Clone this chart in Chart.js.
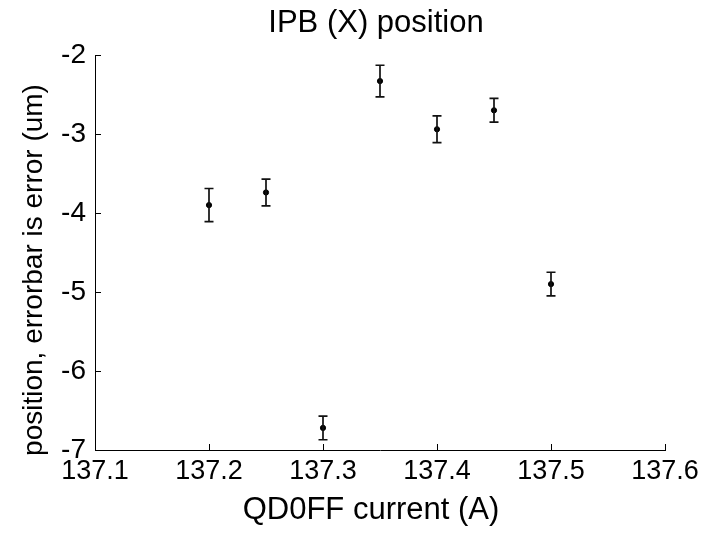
<!DOCTYPE html>
<html>
<head>
<meta charset="utf-8">
<script src="https://cdn.jsdelivr.net/npm/chart.js@4"></script>
<style>
  html, body { margin: 0; padding: 0; background: #fff; }
  #wrap { width: 712px; height: 533px; }
</style>
</head>
<body>
<div id="wrap"><canvas id="posChart" width="712" height="533"></canvas></div>
<script>
// QD0FF scan: IPB horizontal position with per-point error
const currents = [137.2, 137.25, 137.3, 137.35, 137.4, 137.45, 137.5];
const positions = [-3.90, -3.74, -6.72, -2.33, -2.94, -2.70, -4.90];
const errors = [0.21, 0.17, 0.15, 0.20, 0.17, 0.15, 0.15];
const xTicks = [137.1, 137.2, 137.3, 137.4, 137.5, 137.6];
const yTicks = [-7, -6, -5, -4, -3, -2];

const titleText = "IPB (X) position";
const xLabel = "QD0FF current (A)";
const yLabel = "position, errorbar is error (um)";

const FONT = "'Liberation Sans', Arial, Helvetica, sans-serif";

/* vertical error bars with caps */
const errorBars = {
    id: "errorBars",
    afterDatasetsDraw(chart) {
        const ctx = chart.ctx;
        const xs = chart.scales.x;
        const ys = chart.scales.y;
        const cap = 4.5;
        ctx.save();
        ctx.strokeStyle = "#111";
        ctx.lineWidth = 1.7;
        currents.forEach((c, i) => {
            const px = xs.getPixelForValue(c);
            const top = ys.getPixelForValue(positions[i] + errors[i]);
            const bot = ys.getPixelForValue(positions[i] - errors[i]);
            ctx.beginPath();
            ctx.moveTo(px, top);
            ctx.lineTo(px, bot);
            ctx.moveTo(px - cap, top);
            ctx.lineTo(px + cap, top);
            ctx.moveTo(px - cap, bot);
            ctx.lineTo(px + cap, bot);
            ctx.stroke();
        });
        ctx.restore();
    }
};

/* matlab-style ticks pointing into the plot */
const innerTicks = {
    id: "innerTicks",
    afterDraw(chart) {
        const ctx = chart.ctx;
        const xs = chart.scales.x;
        const ys = chart.scales.y;
        const len = 6;
        const area = chart.chartArea;
        ctx.save();
        ctx.strokeStyle = "#000";
        ctx.lineWidth = 1;
        ctx.beginPath();
        xTicks.forEach(v => {
            const px = Math.round(xs.getPixelForValue(v)) + 0.5;
            ctx.moveTo(px, area.bottom);
            ctx.lineTo(px, area.bottom - len);
        });
        yTicks.forEach(v => {
            const py = Math.round(ys.getPixelForValue(v)) + 0.5;
            ctx.moveTo(area.left, py);
            ctx.lineTo(area.left + len, py);
        });
        ctx.stroke();
        ctx.restore();
    }
};

/* title and axis labels, placed like the matlab figure */
const figureText = {
    id: "figureText",
    afterDraw(chart) {
        const ctx = chart.ctx;
        const area = chart.chartArea;
        const midX = (area.left + area.right) / 2;
        ctx.save();
        ctx.fillStyle = "#000";
        ctx.textAlign = "center";
        ctx.textBaseline = "alphabetic";

        ctx.font = "31px " + FONT;
        ctx.fillText(titleText, midX - 4, 32);
        ctx.fillText(xLabel, midX - 9, 519);

        ctx.font = "28px " + FONT;
        ctx.translate(42, 270);
        ctx.rotate(-Math.PI / 2);
        ctx.fillText(yLabel, 0, 0);
        ctx.restore();
    }
};

new Chart(document.getElementById("posChart"), {
    type: "scatter",
    data: {
        datasets: [{
            data: currents.map((c, i) => ({x: c, y: positions[i]})),
            backgroundColor: "#000",
            borderColor: "#000",
            pointRadius: 2.6,
            pointHoverRadius: 2.6
        }]
    },
    options: {
        responsive: false,
        animation: false,
        devicePixelRatio: 1,
        layout: {padding: {left: 0, right: 47, top: 55, bottom: 0}},
        plugins: {
            legend: {display: false},
            tooltip: {enabled: false},
            title: {display: false}
        },
        scales: {
            x: {
                type: "linear",
                min: 137.1,
                max: 137.6,
                afterBuildTicks: s => { s.ticks = xTicks.map(v => ({value: v})); },
                afterFit: s => { s.height = 83; },
                grid: {display: false, drawTicks: false},
                border: {display: true, color: "#000", width: 1},
                ticks: {
                    color: "#000",
                    font: {family: FONT, size: 27},
                    padding: 5,
                    maxRotation: 0,
                    callback: v => Number(v).toFixed(1)
                },
                title: {display: false}
            },
            y: {
                type: "linear",
                min: -7,
                max: -2,
                afterBuildTicks: s => { s.ticks = yTicks.map(v => ({value: v})); },
                afterFit: s => { s.width = 95; },
                grid: {display: false, drawTicks: false},
                border: {display: true, color: "#000", width: 1},
                ticks: {
                    color: "#000",
                    font: {family: FONT, size: 28},
                    padding: 9,
                    callback: v => String(v)
                },
                title: {display: false}
            }
        }
    },
    plugins: [errorBars, innerTicks, figureText]
});
</script>
</body>
</html>
